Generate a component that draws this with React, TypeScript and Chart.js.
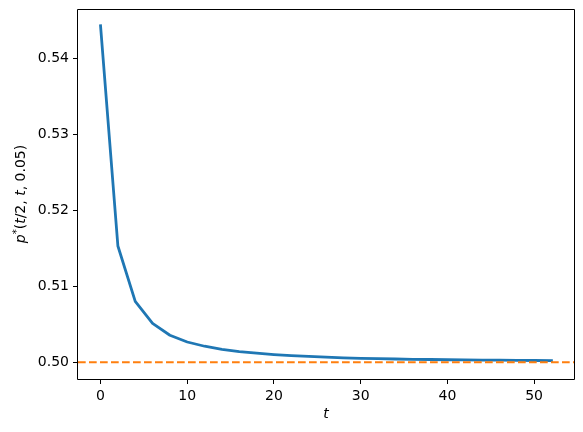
import React, { useEffect, useRef } from "react";
import { Chart, registerables } from "chart.js";

Chart.register(...registerables);

const T_VALUES = [0, 2, 4, 6, 8, 10, 12, 14, 16, 18, 20, 22, 24, 26, 28, 30, 32, 34, 36, 38, 40, 42, 44, 46, 48, 50, 52];
const P_VALUES = [
  0.5443, 0.5153, 0.508, 0.5051, 0.50355, 0.50266, 0.5021, 0.5017, 0.5014, 0.50118, 0.501, 0.50087, 0.50076,
  0.50066, 0.50058, 0.50051, 0.50046, 0.50042, 0.50038, 0.50035, 0.50032, 0.5003, 0.50028, 0.50026, 0.50024,
  0.50022, 0.50021,
];
const REFERENCE_LEVEL = 0.5;
const X_TICKS = [0, 10, 20, 30, 40, 50];
const Y_TICKS = [0.5, 0.51, 0.52, 0.53, 0.54];
const X_LIMITS = [-2.6, 54.6];
const Y_LIMITS = [0.497785, 0.546515];
const X_TITLE = "t";
const Y_TITLE_PARTS = [
  { text: "p", italic: true },
  { text: "*", sup: true },
  { text: "(" },
  { text: "t", italic: true },
  { text: "/2, " },
  { text: "t", italic: true },
  { text: ", 0.05)" },
];

const FONT = "DejaVu Sans";

const framePlugin = {
  id: "frameAndYTitle",
  afterDraw(chart: any) {
    const { ctx, chartArea } = chart;
    const l = Math.round(chartArea.left) - 0.5;
    const r = Math.round(chartArea.right) + 0.5;
    const t = Math.round(chartArea.top) + 0.5;
    const b = Math.round(chartArea.bottom) + 0.5;
    ctx.save();
    ctx.strokeStyle = "#000";
    ctx.lineWidth = 1;
    ctx.beginPath();
    ctx.moveTo(l, t);
    ctx.lineTo(r, t);
    ctx.lineTo(r, b);
    ctx.lineTo(l, b);
    ctx.closePath();
    ctx.stroke();
    ctx.restore();

    // y-axis title with mixed styles
    ctx.save();
    const cy = (chartArea.top + chartArea.bottom) / 2;
    ctx.translate(21, cy);
    ctx.rotate(-Math.PI / 2);
    ctx.fillStyle = "#000";
    ctx.textBaseline = "middle";
    ctx.textAlign = "left";
    const fontFor = (p: any) =>
      `${p.italic ? "italic " : ""}${p.sup ? 10 : 14}px "${FONT}"`;
    let total = 0;
    for (const p of Y_TITLE_PARTS) {
      ctx.font = fontFor(p);
      total += ctx.measureText(p.text).width;
    }
    let x = -total / 2;
    for (const p of Y_TITLE_PARTS) {
      ctx.font = fontFor(p);
      ctx.fillText(p.text, x, p.sup ? -4 : 0);
      x += ctx.measureText(p.text).width;
    }
    ctx.restore();
  },
};

export default function App() {
  const canvasRef = useRef<HTMLCanvasElement | null>(null);

  useEffect(() => {
    document.body.style.margin = "0";
    const canvas = canvasRef.current;
    if (!canvas) return;
    const chart = new Chart(canvas, {
      type: "line",
      data: {
        datasets: [
          {
            label: "p*",
            data: T_VALUES.map((t, i) => ({ x: t, y: P_VALUES[i] })),
            borderColor: "#1f77b4",
            borderWidth: 2.8,
            pointRadius: 0,
            tension: 0,
            fill: false,
            borderCapStyle: "square",
            borderJoinStyle: "round",
            order: 2,
          },
          {
            label: "reference",
            data: [
              { x: X_LIMITS[0], y: REFERENCE_LEVEL },
              { x: X_LIMITS[1], y: REFERENCE_LEVEL },
            ],
            borderColor: "#ff7f0e",
            borderWidth: 2.1,
            borderDash: [7.7, 3.3],
            pointRadius: 0,
            fill: false,
            order: 1,
          },
        ],
      },
      options: {
        responsive: false,
        animation: false,
        events: [],
        layout: { padding: { left: 0, top: 9, right: 9, bottom: 0 } },
        plugins: {
          legend: { display: false },
          tooltip: { enabled: false },
        },
        scales: {
          x: {
            type: "linear",
            min: X_LIMITS[0],
            max: X_LIMITS[1],
            afterBuildTicks: (scale: any) => {
              scale.ticks = X_TICKS.map((v) => ({ value: v }));
            },
            afterFit: (scale: any) => {
              scale.height = 53;
              scale.paddingLeft = 0;
              scale.paddingRight = 0;
            },
            grid: { drawOnChartArea: false, drawTicks: true, tickLength: 5, color: "#000", lineWidth: 1 },
            border: { display: false },
            ticks: {
              color: "#000",
              font: { family: FONT, size: 14 },
              padding: 4,
              maxRotation: 0,
              autoSkip: false,
              callback: (v: any) => String(v),
            },
            title: {
              display: true,
              text: X_TITLE,
              color: "#000",
              font: { family: FONT, size: 14, style: "italic" },
              padding: { top: 0, bottom: 9 },
            },
          },
          y: {
            type: "linear",
            min: Y_LIMITS[0],
            max: Y_LIMITS[1],
            afterBuildTicks: (scale: any) => {
              scale.ticks = Y_TICKS.map((v) => ({ value: v }));
            },
            afterFit: (scale: any) => {
              scale.width = 78;
              scale.paddingTop = 0;
              scale.paddingBottom = 0;
            },
            grid: { drawOnChartArea: false, drawTicks: true, tickLength: 5, color: "#000", lineWidth: 1 },
            border: { display: false },
            ticks: {
              color: "#000",
              font: { family: FONT, size: 14 },
              padding: 4,
              autoSkip: false,
              callback: (v: any) => Number(v).toFixed(2),
            },
          },
        },
      },
      plugins: [framePlugin],
    } as any);
    return () => chart.destroy();
  }, []);

  return (
    <div style={{ position: "fixed", left: 0, top: 0, width: 583, height: 432, background: "#fff" }}>
      <canvas ref={canvasRef} width={583} height={432} style={{ width: 583, height: 432, display: "block" }} />
    </div>
  );
}
